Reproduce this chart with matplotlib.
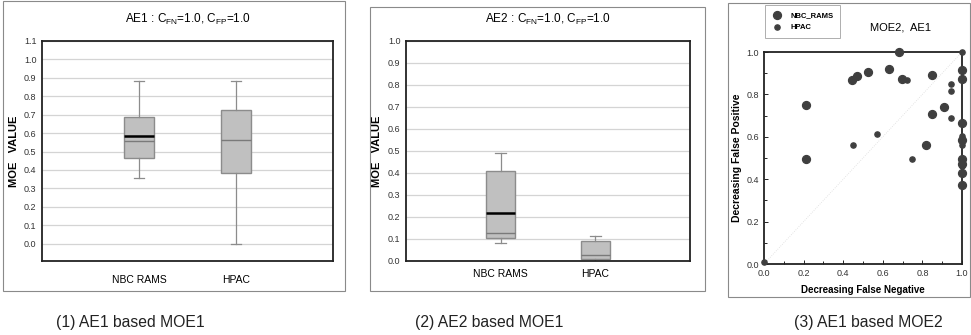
import numpy as np
import matplotlib
matplotlib.use('Agg')
import matplotlib.pyplot as plt
from matplotlib.patches import Rectangle

plt.rcParams['font.family'] = ['Liberation Sans', 'DejaVu Sans']
plt.rcParams['mathtext.fontset'] = 'custom'
plt.rcParams['mathtext.rm'] = 'Liberation Sans'

# ---- data ----
models = ['NBC RAMS', 'HPAC']

# panel 1: AE1 based MOE1
ae1_whislo = [0.356, 0.0]
ae1_q1 = [0.465, 0.383]
ae1_med = [0.558, 0.562]
ae1_q3 = [0.687, 0.725]
ae1_whishi = [0.882, 0.882]
ae1_mean = [0.584, None]

# panel 2: AE2 based MOE1
ae2_whislo = [0.083, 0.002]
ae2_q1 = [0.103, 0.011]
ae2_med = [0.126, 0.029]
ae2_q3 = [0.409, 0.092]
ae2_whishi = [0.491, 0.115]
ae2_mean = [0.220, None]

# panel 3: AE1 based MOE2 (false negative, false positive)
nbc_fn = [0.214, 0.214, 0.443, 0.471, 0.524, 0.631, 0.684, 0.699, 0.848, 0.848,
          0.907, 0.816, 1.0, 1.0, 1.0, 1.0, 1.0, 1.0, 1.0, 1.0]
nbc_fp = [0.748, 0.496, 0.866, 0.887, 0.907, 0.921, 1.0, 0.874, 0.893, 0.706,
          0.739, 0.561, 0.917, 0.874, 0.666, 0.583, 0.496, 0.472, 0.428, 0.373]
hpac_fn = [0.722, 0.449, 0.569, 0.749, 0.943, 0.944, 0.946, 1.0, 1.0, 1.0, 1.0, 1.0, 0.0]
hpac_fp = [0.866, 0.561, 0.613, 0.496, 0.849, 0.816, 0.690, 1.0, 0.606, 0.559, 0.488, 0.46, 0.008]

captions = ['(1) AE1 based MOE1', '(2) AE2 based MOE1', '(3) AE1 based MOE2']

W, H = 971, 335
fig = plt.figure(figsize=(W / 100, H / 100), dpi=100)


def px_axes(l, t, r, b):
    return fig.add_axes([l / W, 1 - b / H, (r - l) / W, (b - t) / H])


def frame(l, t, r, b, color='#8a8a8a'):
    fig.patches.append(Rectangle((l / W, 1 - b / H), (r - l) / W, (b - t) / H,
                                 transform=fig.transFigure, fill=False,
                                 edgecolor=color, linewidth=0.8))


def box_panel(ax, whislo, q1, med, q3, whishi, mean, ylim, yticks, title, pad):
    for i in range(len(models)):
        st = dict(whislo=whislo[i], q1=q1[i], med=med[i], q3=q3[i],
                  whishi=whishi[i], fliers=[])
        show_mean = mean[i] is not None
        if show_mean:
            st['mean'] = mean[i]
        ax.bxp([st], positions=[i + 1], widths=0.3, capwidths=0.11,
               patch_artist=True, showmeans=show_mean, meanline=True,
               boxprops=dict(facecolor='#c0c0c0', edgecolor='#8c8c8c', linewidth=1),
               medianprops=dict(color='#7a7a7a', linewidth=1),
               meanprops=dict(color='black', linestyle='-', linewidth=1.8),
               whiskerprops=dict(color='#8c8c8c', linewidth=0.9),
               capprops=dict(color='#8c8c8c', linewidth=0.9))
    ax.set_xlim(0, 3)
    ax.set_ylim(*ylim)
    ax.set_yticks(yticks)
    ax.set_yticklabels(['%.1f' % v for v in yticks])
    ax.set_xticks([1, 2])
    ax.set_xticklabels(models)
    ax.yaxis.grid(True, color='#d4d4d4', linewidth=0.9)
    ax.set_axisbelow(True)
    ax.tick_params(axis='y', length=0, pad=4, labelsize=6.5, labelcolor='#333333')
    ax.tick_params(axis='x', length=0, pad=pad, labelsize=7.5)
    for s in ax.spines.values():
        s.set_linewidth(1.3)
        s.set_color('#222222')
    ax.set_ylabel('MOE   VALUE', fontsize=8, fontweight='bold')
    ax.set_title(title, fontsize=8.5, pad=13)


# frames around panels
frame(3, 1, 345, 291)
frame(370, 7, 705, 291)
frame(728, 3, 970, 297)

# panel 1
ax1 = px_axes(42, 41, 333, 261)
box_panel(ax1, ae1_whislo, ae1_q1, ae1_med, ae1_q3, ae1_whishi, ae1_mean,
          (-0.094, 1.1), np.arange(0, 1.11, 0.1),
          r'AE1 : C$_{\mathrm{FN}}$=1.0, C$_{\mathrm{FP}}$=1.0', 10)
ax1.yaxis.set_label_coords(-0.08, 0.5)

# panel 2
ax2 = px_axes(406, 41, 690, 261)
box_panel(ax2, ae2_whislo, ae2_q1, ae2_med, ae2_q3, ae2_whishi, ae2_mean,
          (0, 1.0), np.arange(0, 1.01, 0.1),
          r'AE2 : C$_{\mathrm{FN}}$=1.0, C$_{\mathrm{FP}}$=1.0', 6)
ax2.yaxis.set_label_coords(-0.085, 0.5)

# panel 3
ax3 = px_axes(764, 52, 962, 264)
ax3.plot([0, 1], [0, 1], color='#dcdcdc', linewidth=0.6, linestyle=':')
ax3.scatter(nbc_fn, nbc_fp, s=32, color='#3f3f3f', label='NBC_RAMS', clip_on=False, zorder=3)
ax3.scatter(hpac_fn, hpac_fp, s=14, color='#3f3f3f', label='HPAC', clip_on=False, zorder=3)
ax3.set_xlim(0, 1)
ax3.set_ylim(0, 1)
ax3.set_xticks(np.arange(0, 1.01, 0.2))
ax3.set_yticks(np.arange(0, 1.01, 0.2))
ax3.set_xticks(np.arange(0.1, 1.0, 0.2), minor=True)
ax3.set_yticks(np.arange(0.1, 1.0, 0.2), minor=True)
ax3.xaxis.set_major_formatter(matplotlib.ticker.FormatStrFormatter('%.1f'))
ax3.yaxis.set_major_formatter(matplotlib.ticker.FormatStrFormatter('%.1f'))
ax3.tick_params(which='both', direction='in', labelsize=6.5, labelcolor='#333333')
ax3.tick_params(which='major', length=3, width=0.6)
ax3.tick_params(which='minor', length=2, width=0.6)
for s in ax3.spines.values():
    s.set_linewidth(1.3)
    s.set_color('#222222')
ax3.set_xlabel('Decreasing False Negative', fontsize=7, fontweight='bold', labelpad=5)
ax3.set_ylabel('Decreasing False Positive', fontsize=7.5, fontweight='bold', labelpad=3)
fig.text(900 / W, 1 - 27 / H, 'MOE2,  AE1', fontsize=8, ha='center', va='center')
leg = ax3.legend(loc='upper left', bbox_to_anchor=(765 / W, 1 - 5 / H),
                 bbox_transform=fig.transFigure, fontsize=5.5, frameon=True,
                 fancybox=False, edgecolor='#9a9a9a', borderpad=0.9,
                 handletextpad=1.0, labelspacing=0.6, borderaxespad=0,
                 handlelength=1.4)
leg.get_frame().set_linewidth(0.7)
for t in leg.get_texts():
    t.set_fontweight('bold')

# captions
for x, c in zip([130, 489, 868], captions):
    fig.text(x / W, 1 - 322 / H, c, fontsize=11.3, ha='center', va='center',
             family='Liberation Sans', color='#222222')

fig.savefig('out.png', dpi=100)
